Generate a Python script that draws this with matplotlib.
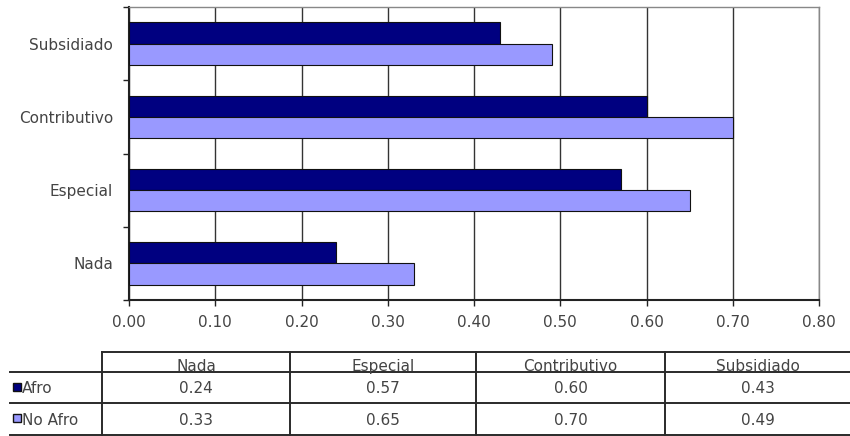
import matplotlib
matplotlib.use("Agg")
import matplotlib.pyplot as plt
import numpy as np
from matplotlib.patches import Rectangle
from matplotlib.lines import Line2D

plt.rcParams['font.family'] = ['DejaVu Sans']

categories = ["Nada", "Especial", "Contributivo", "Subsidiado"]
series_names = ["Afro", "No Afro"]
afro = [0.24, 0.57, 0.60, 0.43]
no_afro = [0.33, 0.65, 0.70, 0.49]
xticks = [0.0, 0.1, 0.2, 0.3, 0.4, 0.5, 0.6, 0.7, 0.8]
colors = ["#000080", "#9999FF"]

W, H = 850, 436
fig = plt.figure(figsize=(W / 100, H / 100), dpi=100)
fig.patch.set_facecolor("white")

FS = 11
TC = "#444444"

# plot area in pixel coordinates
L, R, T, B = 129, 819, 7, 300
ax = fig.add_axes([L / W, 1 - B / H, (R - L) / W, (B - T) / H])

y = np.arange(len(categories))
bh = 0.29
ax.barh(y + bh / 2, afro, height=bh, color=colors[0], edgecolor="#111111", linewidth=0.8, zorder=3)
ax.barh(y - bh / 2, no_afro, height=bh, color=colors[1], edgecolor="#111111", linewidth=0.8, zorder=3)

ax.set_xlim(0, 0.8)
ax.set_ylim(-0.5, len(categories) - 0.5)
ax.set_xticks(xticks)
ax.set_xticklabels([f"{v:.2f}" for v in xticks], fontsize=FS, color=TC)
ax.set_yticks(y)
ax.set_yticklabels(categories, fontsize=FS, color=TC)
ax.tick_params(axis='y', length=0, pad=11.5)
ax.tick_params(axis='x', length=4, width=1, color="#222222", pad=7)
ax.set_yticks(np.arange(-0.5, len(categories), 1.0), minor=True)
ax.tick_params(axis='y', which='minor', length=4, width=1, color="#222222")

ax.grid(axis='x', color="#333333", linewidth=1.0, zorder=0)
ax.grid(axis='y', visible=False)
for s in ["top", "right"]:
    ax.spines[s].set_color("#888888")
    ax.spines[s].set_linewidth(1.0)
for s in ["left", "bottom"]:
    ax.spines[s].set_color("#222222")
    ax.spines[s].set_linewidth(1.5)

# data table drawn in pixel space
tx = fig.add_axes([0, 0, 1, 1])
tx.set_xlim(0, W)
tx.set_ylim(H, 0)
tx.axis("off")

col_x = [102, 290, 476, 665, 850]
row_y = [352, 372, 403, 435]
lc = "#2a2a2a"
lw = 1.4
tx.add_line(Line2D([col_x[0], col_x[-1]], [row_y[0], row_y[0]], color=lc, lw=lw))
for yy in row_y[1:]:
    tx.add_line(Line2D([10, col_x[-1]], [yy, yy], color=lc, lw=lw))
for xx in col_x[:-1]:
    tx.add_line(Line2D([xx, xx], [row_y[0], row_y[-1]], color=lc, lw=lw))

for i, cat in enumerate(categories):
    cx = (col_x[i] + col_x[i + 1]) / 2
    tx.text(cx, row_y[1] + 2, cat, ha="center", va="bottom", fontsize=FS, color=TC)
    tx.text(cx, (row_y[1] + row_y[2]) / 2 + 1, f"{afro[i]:.2f}", ha="center", va="center", fontsize=FS, color=TC)
    tx.text(cx, (row_y[2] + row_y[3]) / 2 + 1, f"{no_afro[i]:.2f}", ha="center", va="center", fontsize=FS, color=TC)

for j, name in enumerate(series_names):
    yc = (row_y[1 + j] + row_y[2 + j]) / 2
    tx.add_patch(Rectangle((13, yc - 5), 8, 8, facecolor=colors[j], edgecolor="#111111", lw=1.0))
    tx.text(22, yc + 1, name, ha="left", va="center", fontsize=FS, color=TC)

fig.savefig("out.png", dpi=100, facecolor="white")
